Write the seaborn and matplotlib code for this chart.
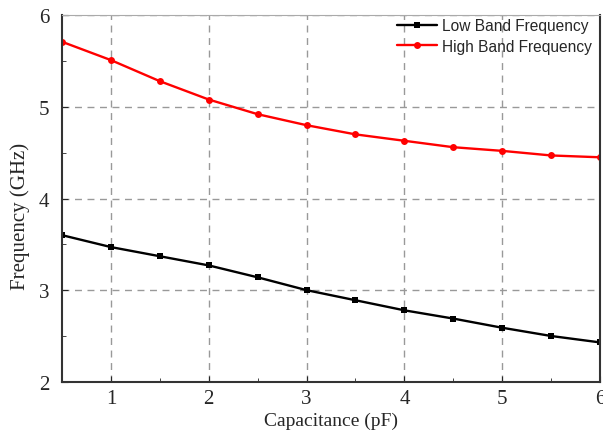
import numpy as np
import pandas as pd
import matplotlib
matplotlib.use("Agg")
import matplotlib.pyplot as plt
import seaborn as sns
from matplotlib.ticker import MultipleLocator

# Données
capacitance = [0.5, 1, 1.5, 2, 2.5, 3, 3.5, 4, 4.5, 5, 5.5, 6]
low_band = [3.60, 3.47, 3.37, 3.27, 3.14, 3.00, 2.89, 2.78, 2.69, 2.59, 2.50, 2.43]
high_band = [5.71, 5.51, 5.28, 5.08, 4.92, 4.80, 4.70, 4.63, 4.56, 4.52, 4.47, 4.45]

df = pd.DataFrame({
    "Capacitance": capacitance * 2,
    "Frequency": low_band + high_band,
    "Serie": ["Low Band Frequency"] * len(capacitance) + ["High Band Frequency"] * len(capacitance),
})

sns.set_style("ticks")
plt.rcParams["font.family"] = ["Liberation Serif", "DejaVu Serif"]

fig, ax = plt.subplots(figsize=(6.03, 4.39), dpi=100)

sns.lineplot(
    data=df, x="Capacitance", y="Frequency", hue="Serie", style="Serie",
    palette={"Low Band Frequency": "black", "High Band Frequency": "red"},
    markers={"Low Band Frequency": "s", "High Band Frequency": "o"},
    dashes=False, markersize=5, linewidth=1.7, markeredgewidth=0, ax=ax,
)

ax.set_xlim(0.5, 6)
ax.set_ylim(2, 6)
ax.xaxis.set_major_locator(MultipleLocator(1))
ax.xaxis.set_minor_locator(MultipleLocator(0.5))
ax.yaxis.set_major_locator(MultipleLocator(1))
ax.yaxis.set_minor_locator(MultipleLocator(0.5))
ax.tick_params(which="both", direction="in", labelsize=15, top=False, right=False)
ax.tick_params(which="major", length=4)
ax.tick_params(which="minor", length=3)
ax.tick_params(axis="x", which="major", pad=5)
ax.tick_params(axis="y", which="major", pad=9)
ax.grid(True, which="major", linestyle=(0, (5, 4)), color="#999999", linewidth=1)

for side in ["left", "bottom", "right"]:
    ax.spines[side].set_color("#333333")
    ax.spines[side].set_linewidth(1.5)
ax.spines["top"].set_color("#aaaaaa")

ax.set_xlabel("Capacitance (pF)", fontsize=14, labelpad=3)
ax.set_ylabel("Frequency (GHz)", fontsize=15)
ax.yaxis.set_label_coords(-0.060, 0.455)

leg = ax.legend(
    loc="upper right", bbox_to_anchor=(0.99, 1.0), frameon=False,
    prop={"family": "Liberation Sans", "size": 11.2},
    handlelength=2.6, handletextpad=0.3, borderaxespad=0.0, labelspacing=0.35,
    borderpad=0.2,
)

plt.subplots_adjust(left=0.103, right=0.995, top=0.963, bottom=0.128)
fig.savefig("out.png", dpi=100)
